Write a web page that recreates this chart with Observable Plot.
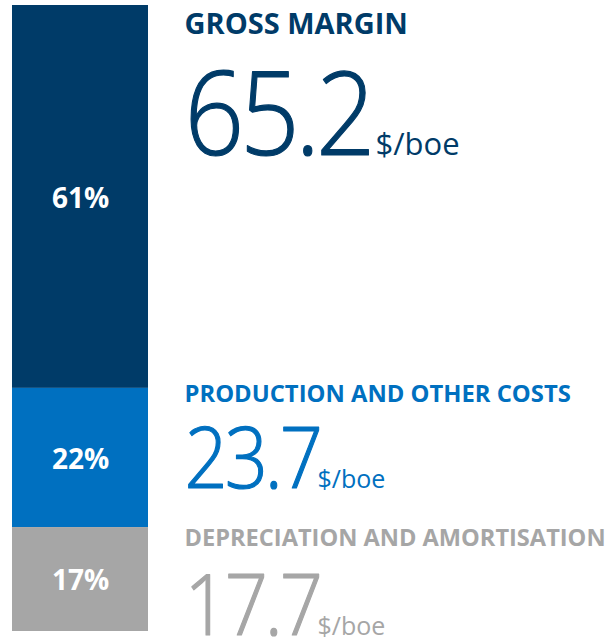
<!DOCTYPE html>
<html>
<head>
<meta charset="utf-8">
<script src="https://cdn.jsdelivr.net/npm/d3@7"></script>
<script src="https://cdn.jsdelivr.net/npm/@observablehq/plot@0.6"></script>
<style>
  html, body { margin: 0; padding: 0; background: #ffffff; }
  #chart { width: 613px; height: 638px; overflow: hidden; }
  .big text { letter-spacing: -0.04em; }
</style>
</head>
<body>
<div id="chart"></div>
<script>
// ---- data ----
const categories = ["GROSS MARGIN", "PRODUCTION AND OTHER COSTS", "DEPRECIATION AND AMORTISATION"];
const values = [65.2, 23.7, 17.7];          // $/boe
const shares = ["61%", "22%", "17%"];
const unitLabel = "$/boe";
const colors = ["#003b68", "#0070c0", "#a6a6a6"];

const total = d3.sum(values);
const ends = d3.cumsum(values);
const rows = categories.map((c, i) => ({
  group: "total",
  category: c,
  value: values[i],
  start: ends[i] - values[i],
  share: shares[i],
  number: d3.format(".1f")(values[i]),
  unit: unitLabel
}));

const font = "'Open Sans', 'Noto Sans', sans-serif";
const pick = (i) => rows.filter((d, j) => j === i);

const marks = [
  Plot.barY(rows, {x: "group", y: "value", fill: "category"}),
  Plot.text(rows, Plot.stackY({
    x: "group", y: "value", text: "share", dy: 2,
    fill: "white", fontSize: 28, fontWeight: "bold", fontFamily: font
  }))
];

// right-hand labels: title size/dy, number size/dy, unit offset/size
const layout = [
  {ts: 29, tdy: 28, ns: 116, ndy: 149, udx: 375, us: 31},
  {ts: 23.8, tdy: 14, ns: 84,  ndy: 100, udx: 317, us: 25},
  {ts: 23.6, tdy: 18, ns: 84,  ndy: 107, udx: 317, us: 25}
];

layout.forEach((L, i) => {
  const col = colors[i];
  marks.push(
    Plot.text(pick(i), {
      y: "start", text: "category", frameAnchor: "left", textAnchor: "start",
      lineAnchor: "bottom", dx: 184, dy: L.tdy,
      fill: col, fontSize: L.ts, fontWeight: "bold", fontFamily: font
    }),
    Plot.text(pick(i), {
      y: "start", text: "number", frameAnchor: "left", textAnchor: "start",
      lineAnchor: "bottom", dx: 184, dy: L.ndy, className: "big",
      fill: col, stroke: col, strokeWidth: 1.2,
      fontSize: L.ns, fontWeight: 300, fontFamily: font
    }),
    Plot.text(pick(i), {
      y: "start", text: "unit", frameAnchor: "left", textAnchor: "start",
      lineAnchor: "bottom", dx: L.udx, dy: L.ndy,
      fill: col, fontSize: L.us, fontWeight: 400, fontFamily: font
    })
  );
});

const chart = Plot.plot({
  width: 613,
  height: 638,
  margin: 0,
  style: {background: "#ffffff", overflow: "visible"},
  x: {type: "band", domain: ["total"], range: [12, 148], padding: 0, axis: null},
  y: {domain: [0, total], range: [5, 631], axis: null},
  color: {domain: categories, range: colors},
  marks
});

// narrow the big figures horizontally (the reference face is narrower than Open Sans)
d3.select(chart).selectAll(".big text").each(function() {
  const t = this.getAttribute("transform") || "";
  this.setAttribute("transform", t + " scale(0.9,1)");
});

document.getElementById("chart").appendChild(chart);
</script>
</body>
</html>
